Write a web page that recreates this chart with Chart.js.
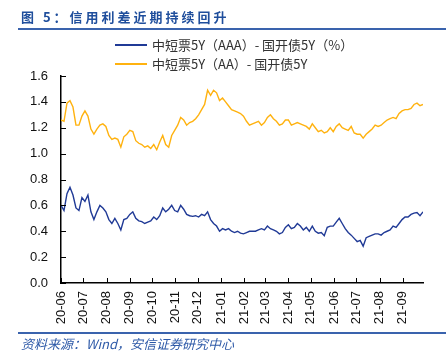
<!DOCTYPE html>
<html>
<head>
<meta charset="utf-8">
<script src="https://cdn.jsdelivr.net/npm/chart.js@4/dist/chart.umd.min.js"></script>
<style>
  body { margin: 0; background: #fff; }
  #wrap { position: relative; width: 446px; height: 362px; overflow: hidden; font-family: "Liberation Sans", Arial, sans-serif; }
  #title { position: absolute; left: 21px; top: 7px; font: bold 13px "Noto Sans CJK SC", sans-serif; letter-spacing: 3px; color: #1f4e9c; white-space: nowrap; }
  .rule { position: absolute; left: 18px; right: 0; height: 0; border-top: 2px solid #3a63ad; }
  .leg { position: absolute; left: 115px; font: 13px "Noto Sans CJK SC", sans-serif; color: #333; white-space: nowrap; }
  .leg span { display: inline-block; width: 32px; height: 0; border-top: 2px solid; vertical-align: middle; margin-right: 5px; position: relative; top: -1px; }
  #source { position: absolute; left: 21px; top: 334px; font: italic 13px "Noto Sans CJK SC", sans-serif; color: #2e5aa8; white-space: nowrap; }
  canvas { position: absolute; left: 0; top: 0; }
</style>
</head>
<body>
<div id="wrap">
  <canvas id="myChart" width="446" height="362"></canvas>
  <div id="title">图 5：信用利差近期持续回升</div>
  <div class="rule" style="top:28px"></div>
  <div class="leg" style="top:35px"><span style="border-color:#203a96"></span>中短票5Y（AAA）- 国开债5Y（%）</div>
  <div class="leg" style="top:54px"><span style="border-color:#ffb20f"></span>中短票5Y（AA）- 国开债5Y</div>
  <div class="rule" style="top:332px"></div>
  <div id="source">资料来源：Wind，安信证券研究中心</div>
</div>
<script>
// days since 2020-06-01
var dayIndex = [0,4,8,12,16,20,24,28,32,36,40,44,48,52,56,60,64,68,72,76,
  80,84,88,92,96,100,104,108,112,116,120,124,128,132,136,140,144,148,152,156,
  160,164,168,172,176,180,184,188,192,196,200,204,208,212,216,220,224,228,232,236,
  240,244,248,252,256,260,264,268,272,276,280,284,288,292,296,300,304,308,312,316,
  320,324,328,332,336,340,344,348,352,356,360,364,368,372,376,380,384,388,392,396,
  400,404,408,412,416,420,424,428,432,436,440,444,448,452,456,460,464,468,472,476,
  480,484];

var spreadAAA = [0.60,0.56,0.69,0.74,0.68,0.58,0.56,0.66,0.63,0.68,
  0.55,0.49,0.55,0.60,0.58,0.55,0.49,0.46,0.50,0.46,
  0.41,0.49,0.50,0.53,0.55,0.50,0.48,0.475,0.46,0.47,
  0.48,0.51,0.49,0.52,0.58,0.55,0.57,0.60,0.56,0.55,
  0.60,0.57,0.53,0.52,0.515,0.52,0.51,0.53,0.52,0.55,
  0.49,0.46,0.44,0.40,0.42,0.41,0.42,0.40,0.39,0.40,
  0.385,0.38,0.39,0.40,0.40,0.40,0.41,0.42,0.41,0.44,
  0.42,0.41,0.40,0.38,0.39,0.43,0.45,0.42,0.43,0.46,
  0.44,0.41,0.43,0.40,0.44,0.40,0.385,0.39,0.365,0.43,
  0.44,0.44,0.47,0.50,0.46,0.42,0.39,0.37,0.345,0.32,
  0.33,0.285,0.35,0.36,0.37,0.38,0.38,0.37,0.39,0.40,
  0.41,0.44,0.43,0.46,0.49,0.51,0.51,0.53,0.54,0.545,
  0.52,0.55];

var spreadAA = [1.26,1.25,1.39,1.41,1.36,1.22,1.22,1.29,1.33,1.29,
  1.19,1.15,1.19,1.22,1.23,1.21,1.14,1.11,1.12,1.11,
  1.05,1.13,1.15,1.18,1.17,1.10,1.08,1.07,1.05,1.06,
  1.04,1.07,1.03,1.09,1.14,1.07,1.05,1.14,1.18,1.22,
  1.28,1.26,1.22,1.24,1.25,1.27,1.30,1.34,1.38,1.49,
  1.45,1.49,1.47,1.41,1.43,1.40,1.37,1.34,1.33,1.32,
  1.31,1.29,1.25,1.22,1.23,1.24,1.25,1.22,1.24,1.28,
  1.30,1.27,1.25,1.22,1.23,1.26,1.26,1.22,1.23,1.24,
  1.23,1.22,1.21,1.19,1.23,1.20,1.17,1.18,1.16,1.17,
  1.20,1.17,1.21,1.23,1.20,1.19,1.18,1.21,1.16,1.15,
  1.15,1.12,1.15,1.17,1.19,1.22,1.21,1.22,1.24,1.26,
  1.27,1.28,1.27,1.31,1.33,1.34,1.34,1.35,1.38,1.39,
  1.37,1.38];

// month starts (days since 2020-06-01) and their labels
var monthDays = [0,30,61,92,122,153,183,214,245,273,304,334,365,395,426,457];
var monthLabels = ["20-06","20-07","20-08","20-09","20-10","20-11","20-12","21-01",
  "21-02","21-03","21-04","21-05","21-06","21-07","21-08","21-09"];

var yTicks = [0,0.2,0.4,0.6,0.8,1.0,1.2,1.4,1.6];

function toPoints(vals) {
  return vals.map(function(v, i){ return {x: dayIndex[i], y: v}; });
}

// short tick marks pointing into the plot
var innerTicks = {
  id: "innerTicks",
  afterDraw: function(chart) {
    var c = chart.ctx, a = chart.chartArea;
    var xs = chart.scales.x, ys = chart.scales.y;
    c.save();
    c.strokeStyle = "#000";
    c.lineWidth = 1;
    c.beginPath();
    yTicks.forEach(function(v){
      var py = Math.round(ys.getPixelForValue(v)) + 0.5;
      c.moveTo(a.left, py); c.lineTo(a.left + 5, py);
    });
    monthDays.forEach(function(d){
      var px = Math.round(xs.getPixelForValue(d)) + 0.5;
      c.moveTo(px, a.bottom); c.lineTo(px, a.bottom - 5);
    });
    c.stroke();
    c.restore();
  }
};

var ctx = document.getElementById("myChart").getContext("2d");
var myNewChart = new Chart(ctx, {
  type: "line",
  data: {
    datasets: [
      { label: "中短票5Y（AAA）- 国开债5Y（%）", data: toPoints(spreadAAA),
        borderColor: "#203a96", borderWidth: 1.4, pointRadius: 0, tension: 0 },
      { label: "中短票5Y（AA）- 国开债5Y", data: toPoints(spreadAA),
        borderColor: "#ffb20f", borderWidth: 1.4, pointRadius: 0, tension: 0 }
    ]
  },
  options: {
    responsive: false,
    animation: false,
    layout: { padding: { top: 76, right: 23, left: 0, bottom: 0 } },
    plugins: { legend: { display: false }, tooltip: { enabled: false } },
    scales: {
      x: {
        type: "linear", min: 0, max: 484,
        afterBuildTicks: function(s){ s.ticks = monthDays.map(function(d){ return {value: d}; }); },
        afterFit: function(s){ s.height = 79; },
        grid: { display: false, drawTicks: false },
        border: { color: "#000", width: 1.5 },
        ticks: {
          autoSkip: false, minRotation: 90, maxRotation: 90, padding: 8,
          color: "#111", font: { family: "Liberation Sans", size: 13 },
          callback: function(v){ var k = monthDays.indexOf(v); return k >= 0 ? monthLabels[k] : ""; }
        }
      },
      y: {
        min: 0, max: 1.6,
        afterBuildTicks: function(s){ s.ticks = yTicks.map(function(v){ return {value: v}; }); },
        afterFit: function(s){ s.width = 61; },
        grid: { display: false, drawTicks: false },
        border: { color: "#000", width: 1.5 },
        ticks: {
          padding: 13, color: "#111", font: { family: "Liberation Sans", size: 13 },
          callback: function(v){ return Number(v).toFixed(1); }
        }
      }
    }
  },
  plugins: [innerTicks]
});
</script>
</body>
</html>
